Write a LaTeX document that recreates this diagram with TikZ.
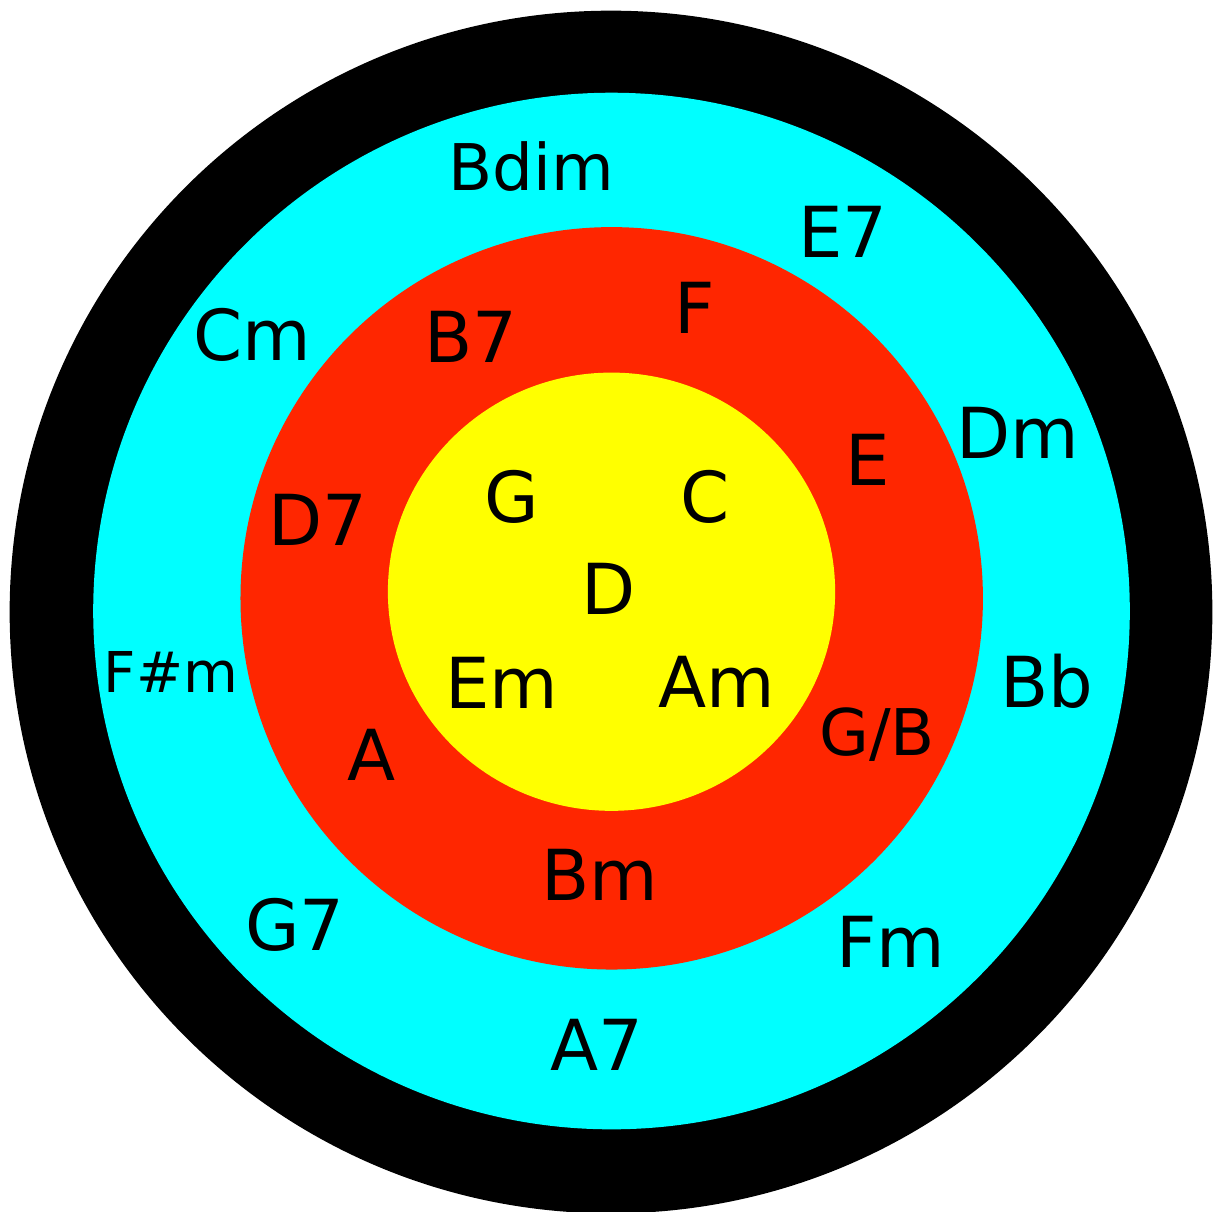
\documentclass[tikz,border=0pt]{standalone}
\usepackage{fontspec}
\setmainfont{DejaVu Sans}

\definecolor{cyanring}{RGB}{0,255,255}
\definecolor{redring}{RGB}{255,38,0}
\definecolor{yellowring}{RGB}{255,255,0}

\begin{document}
\begin{tikzpicture}[x=0.01cm, y=-0.01cm,
  chord/.style={font=\fontsize{20}{24}\selectfont, anchor=base, inner sep=0pt},
  small chord/.style={chord, font=\fontsize{18.3}{22}\selectfont},
  tiny chord/.style={chord, font=\fontsize{16}{20}\selectfont}]

  \useasboundingbox (0,0) rectangle (1213,1211);

  % 1. Les anneaux de la cible
  \fill[black] (611,612) circle (6.01cm);
  \fill[cyanring] (611.5,611) circle (5.18cm);
  \fill[redring] (611.7,598.3) circle (3.71cm);
  \fill[yellowring] (611.5,591.7) ellipse (2.235cm and 2.19cm);

  % 2. Anneau exterieur (cyan)
  \node[small chord] (bdim) at (531,190) {Bdim};
  \node[chord] (e7) at (843,257) {E7};
  \node[chord] (cm) at (252,360) {Cm};
  \node[chord] (dm) at (1018,458) {Dm};
  \node[tiny chord] (fsm) at (171,692) {F\#m};
  \node[chord] (bb) at (1047,707) {Bb};
  \node[chord] (g7) at (295,950) {G7};
  \node[chord] (fm) at (891,967) {Fm};
  \node[chord] (a7) at (597,1070) {A7};

  % 3. Anneau du milieu (rouge)
  \node[chord] (b7) at (471,362) {B7};
  \node[chord] (f) at (695,333) {F};
  \node[chord] (e) at (868,485) {E};
  \node[chord] (d7) at (318,545) {D7};
  \node[chord] (a) at (372,780) {A};
  \node[small chord] (gb) at (877,755) {G/B};
  \node[chord] (bm) at (600,900) {Bm};

  % 4. Centre (jaune)
  \node[chord] (g) at (512,522) {G};
  \node[chord] (c) at (705,522) {C};
  \node[chord] (d) at (609,614) {D};
  \node[chord] (em) at (502,708) {Em};
  \node[chord] (am) at (717,707) {Am};

\end{tikzpicture}
\end{document}
